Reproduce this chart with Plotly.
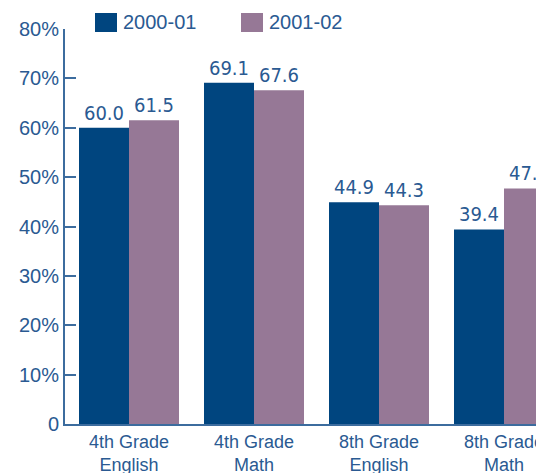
import plotly.graph_objects as go

categories = ["4th Grade<br>English", "4th Grade<br>Math", "8th Grade<br>English", "8th Grade<br>Math"]
series_names = ["2000-01", "2001-02"]
values_2000_01 = [60.0, 69.1, 44.9, 39.4]
values_2001_02 = [61.5, 67.6, 44.3, 47.7]
tick_vals = [0, 10, 20, 30, 40, 50, 60, 70, 80]
tick_text = ["0", "10%", "20%", "30%", "40%", "50%", "60%", "70%", "80%"]

DARK = "#00457F"
PURPLE = "#967896"
TEXT = "#2A5A92"
AXIS = "#3C6C9E"

fig = go.Figure()
for name, vals, color in [(series_names[0], values_2000_01, DARK),
                          (series_names[1], values_2001_02, PURPLE)]:
    fig.add_trace(go.Bar(
        x=categories, y=vals, name=name,
        marker=dict(color=color, line=dict(width=0)),
        text=[f"{v:.1f}" for v in vals],
        textposition="outside",
        textfont=dict(family="DejaVu Sans Condensed, Arial", size=20, color=TEXT),
        cliponaxis=True,
        showlegend=False,
    ))

# page body has an 8px margin, so the figure is sized/offset to fit the window
W, H = 536, 465
ml, mr, mt, mb = 57, 0, 21, 49
pw, ph = W - ml - mr, H - mt - mb

# manual legend (large square swatches), positions in figure pixels
legend_items = [(series_names[0], DARK, 87), (series_names[1], PURPLE, 233)]
for name, color, px in legend_items:
    x0 = (px - ml) / pw
    x1 = (px + 22 - ml) / pw
    y0 = (H - mb - 24) / ph
    y1 = (H - mb - 5) / ph
    fig.add_shape(type="rect", xref="paper", yref="paper", x0=x0, x1=x1, y0=y0, y1=y1,
                  fillcolor=color, line=dict(width=0))
    fig.add_annotation(xref="paper", yref="paper", x=(px + 26 - ml) / pw, y=(y0 + y1) / 2,
                       text=name, showarrow=False, xanchor="left", yanchor="middle",
                       font=dict(family="Arial", size=20, color=TEXT))

fig.update_layout(
    width=W, height=H,
    margin=dict(l=ml, r=mr, t=mt, b=mb, autoexpand=False),
    plot_bgcolor="white", paper_bgcolor="white",
    barmode="group", bargap=0.2, bargroupgap=0,
    font=dict(family="Arial", color=TEXT),
    xaxis=dict(
        range=[-0.512, 3.32], showline=True, linecolor=AXIS, linewidth=2,
        ticks="", showgrid=False, zeroline=False, automargin=False,
        ticklabelstandoff=0,
        tickfont=dict(size=18, color=TEXT),
    ),
    yaxis=dict(
        range=[0, 80], tickvals=tick_vals, ticktext=tick_text,
        showline=True, linecolor=AXIS, linewidth=2, automargin=False,
        ticks="inside", ticklen=11, tickcolor=AXIS, tickwidth=2,
        showgrid=False, zeroline=False,
        tickfont=dict(size=20, color=TEXT),
    ),
)

fig.write_html("out.html")
